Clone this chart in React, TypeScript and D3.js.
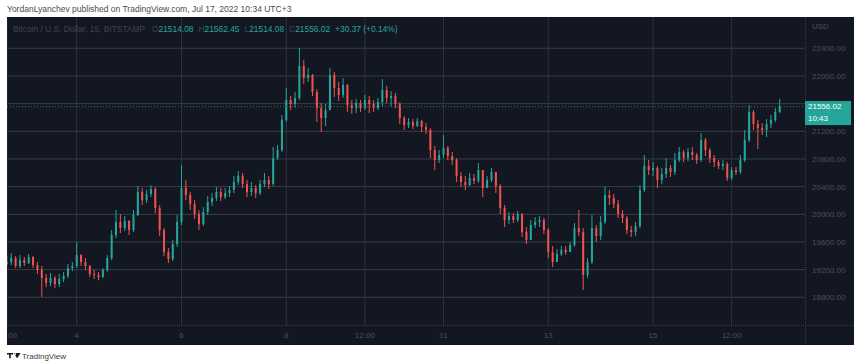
import React from 'react';
import * as d3 from 'd3';

const W = 857;
const H = 364;

// 2-hour candles, hours measured from Jul 4 00:00 (UTC+3)
const startHour = -32;
const stepHours = 2;
const firstOpen = 19281;
const closes = [
  19310, 19367, 19252, 19338, 19295, 19382, 19266, 19194, 19078, 19006,
  19078, 18991, 19064, 19107, 19223, 19252, 19411, 19310, 19252, 19136,
  19122, 19093, 19194, 19367, 19700, 19888, 19801, 19903, 19772, 19989,
  20322, 20206, 20293, 20365, 20091, 19772, 19454, 19353, 19570, 19888,
  20380, 20278, 20148, 20004, 19859, 20033, 20177, 20235, 20322, 20249,
  20307, 20351, 20466, 20553, 20437, 20322, 20380, 20307, 20437, 20495,
  20437, 20813, 20929, 21363, 21652, 21594, 21681, 22144, 21970, 22014,
  21768, 21536, 21392, 21507, 22014, 21826, 21724, 21869, 21580, 21536,
  21609, 21536, 21652, 21594, 21536, 21623, 21797, 21681, 21710, 21594,
  21392, 21291, 21334, 21276, 21349, 21262, 21218, 20929, 20785, 20857,
  20958, 20842, 20785, 20553, 20466, 20423, 20524, 20481, 20640, 20380,
  20495, 20611, 20409, 20091, 19917, 19975, 19917, 20004, 19743, 19628,
  19845, 19888, 19917, 19772, 19454, 19310, 19425, 19483, 19454, 19556,
  19801, 19743, 19122, 19310, 19801, 19685, 19888, 20278, 20235, 20148,
  20004, 19946, 19772, 19743, 19830, 20351, 20698, 20640, 20669, 20495,
  20582, 20669, 20611, 20785, 20900, 20813, 20900, 20857, 20785, 21074,
  20929, 20813, 20756, 20698, 20727, 20524, 20640, 20611, 20785, 21074,
  21479, 21305, 21247, 21218, 21305, 21363, 21479, 21556.02,
];
const highs = [
  19396, 19440, 19396, 19411, 19382, 19425, 19396, 19310, 19252, 19136,
  19151, 19107, 19136, 19165, 19281, 19310, 19599, 19425, 19367, 19266,
  19194, 19165, 19223, 19411, 19772, 20062, 20004, 19975, 19917, 20062,
  20409, 20380, 20351, 20423, 20394, 20134, 19801, 19512, 19628, 19989,
  20712, 20495, 20322, 20206, 20062, 20105, 20264, 20307, 20394, 20380,
  20380, 20409, 20553, 20625, 20597, 20495, 20466, 20423, 20495, 20597,
  20553, 20972, 21001, 21435, 21826, 21710, 21768, 22404, 22231, 22115,
  22028, 21811, 21609, 21594, 22115, 22057, 21913, 21970, 21884, 21652,
  21667, 21652, 21724, 21710, 21652, 21681, 21956, 21855, 21782, 21753,
  21623, 21421, 21392, 21377, 21392, 21363, 21320, 21247, 20987, 20929,
  21146, 20987, 20900, 20813, 20611, 20553, 20597, 20582, 20741, 20640,
  20553, 20669, 20611, 20437, 20134, 20033, 20018, 20047, 20018, 19816,
  19917, 19960, 19975, 19946, 19801, 19541, 19498, 19541, 19541, 19599,
  19874, 20062, 19801, 19367, 19989, 19845, 19975, 20394, 20351, 20293,
  20206, 20062, 19975, 19830, 19888, 20423, 20857, 20785, 20756, 20698,
  20669, 20813, 20712, 20886, 20972, 20929, 20958, 20972, 20886, 21175,
  21103, 20958, 20857, 20785, 20785, 20756, 20683, 20683, 20857, 21218,
  21580, 21507, 21363, 21320, 21377, 21435, 21536, 21667,
];
const lows = [
  19252, 19266, 19223, 19223, 19252, 19281, 19223, 19136, 18804, 18948,
  18962, 18934, 18948, 19020, 19078, 19180, 19223, 19252, 19194, 19093,
  19064, 19049, 19078, 19165, 19338, 19657, 19729, 19758, 19700, 19743,
  19975, 20134, 20163, 20249, 20018, 19685, 19396, 19295, 19324, 19527,
  19845, 20206, 20062, 19931, 19772, 19830, 19989, 20119, 20192, 20192,
  20221, 20249, 20307, 20423, 20380, 20249, 20264, 20235, 20278, 20394,
  20365, 20409, 20785, 20900, 21334, 21507, 21536, 21652, 21884, 21913,
  21710, 21334, 21190, 21276, 21507, 21695, 21638, 21681, 21479, 21450,
  21464, 21479, 21507, 21464, 21479, 21507, 21565, 21609, 21565, 21536,
  21305, 21218, 21247, 21233, 21262, 21190, 21161, 20813, 20640, 20741,
  20813, 20785, 20712, 20466, 20394, 20351, 20409, 20437, 20452, 20249,
  20380, 20466, 20307, 20004, 19816, 19859, 19874, 19888, 19671, 19570,
  19628, 19801, 19816, 19714, 19367, 19237, 19310, 19396, 19411, 19454,
  19527, 19685, 18905, 19078, 19281, 19599, 19628, 19859, 20134, 20091,
  19946, 19874, 19714, 19671, 19685, 19801, 20322, 20568, 20553, 20380,
  20437, 20524, 20539, 20568, 20756, 20756, 20770, 20785, 20727, 20756,
  20842, 20741, 20683, 20654, 20640, 20481, 20495, 20568, 20582, 20756,
  21045, 21218, 20944, 21146, 21117, 21247, 21334, 21464,
];

const priceTicks = [18800, 19200, 19600, 20000, 20400, 20800, 21200, 21600, 22000, 22400];
const timeTickHours = [-32, 0, 48, 96, 132, 168, 216, 264, 300];
const timeTickLabels = ['12:00', '4', '6', '8', '12:00', '11', '13', '15', '12:00'];

const lastPrice = 21556.02;
const countdown = '10:43';
const headerText = 'YordanLyanchev published on TradingView.com, Jul 17, 2022 10:34 UTC+3';
const symbolText = 'Bitcoin / U.S. Dollar, 15, BITSTAMP';
const ohlcLabels = ['O', 'H', 'L', 'C'];
const ohlcValues = ['21514.08', '21562.45', '21514.08', '21556.02'];
const changeText = '+30.37 (+0.14%)';

const UP = '#26a69a';
const DOWN = '#ef5350';
const BG = '#131722';
const FONT = '"Liberation Sans", Arial, sans-serif';

export default function App() {
  const panel = { x0: 7, x1: 854, y0: 17, y1: 345 };
  const plotRight = 805;
  const plotBottom = 325;

  const x = d3.scaleLinear().domain([-31.93, 333.6]).range([panel.x0, plotRight]);
  const y = d3.scaleLinear().domain([18800, 22400]).range([297.3, 48.3]);

  const bodyW = 2;
  const candles = closes.map((c, i) => {
    const o = i === 0 ? firstOpen : closes[i - 1];
    const h = Math.max(highs[i], o, c);
    const l = Math.min(lows[i], o, c);
    const cx = x(startHour + i * stepHours);
    const color = c >= o ? UP : DOWN;
    const top = y(Math.max(o, c));
    const bot = y(Math.min(o, c));
    return (
      <g key={i}>
        <line x1={cx} x2={cx} y1={y(h)} y2={y(l)} stroke={color} strokeWidth={1} />
        <rect x={cx - bodyW / 2} y={top} width={bodyW} height={Math.max(1, bot - top)} fill={color} />
      </g>
    );
  });

  const ly = y(lastPrice);
  const tagTop = ly - 5.6;
  const tagH = 24;

  return (
    <svg width={W} height={H} style={{ position: 'absolute', left: 0, top: 0, background: '#fff' }} fontFamily={FONT}>
      <defs>
        <clipPath id="plot">
          <rect x={panel.x0} y={panel.y0} width={plotRight - panel.x0} height={plotBottom - panel.y0} />
        </clipPath>
        <clipPath id="taxis">
          <rect x={panel.x0} y={plotBottom} width={plotRight - panel.x0} height={panel.y1 - plotBottom} />
        </clipPath>
      </defs>
      <rect width={W} height={H} fill="#fff" />
      <text x={7} y={12} fontSize={8.5} fill="#4a4a4a">{headerText}</text>

      <rect x={panel.x0} y={panel.y0} width={panel.x1 - panel.x0} height={panel.y1 - panel.y0} fill={BG} />

      <g clipPath="url(#plot)">
        {priceTicks.map((p) => (
          <line key={p} x1={panel.x0} x2={plotRight} y1={y(p)} y2={y(p)} stroke="#383c48" strokeWidth={1} />
        ))}
        {timeTickHours.map((h) => (
          <line key={h} x1={x(h)} x2={x(h)} y1={panel.y0} y2={plotBottom} stroke="#2f333e" strokeWidth={1} />
        ))}
        {candles}
        <line x1={panel.x0} x2={plotRight} y1={ly} y2={ly} stroke="#4f6f70" strokeWidth={1} strokeDasharray="1,2" />
      </g>

      <line x1={panel.x0} x2={panel.x1} y1={plotBottom + 0.5} y2={plotBottom + 0.5} stroke="#363a45" strokeDasharray="1,1" />
      <line x1={plotRight + 0.5} x2={plotRight + 0.5} y1={panel.y0} y2={panel.y1} stroke="#363a45" strokeDasharray="1,1" />

      <text x={13} y={32} fontSize={8.4} fill="#3f4451">
        <tspan>{symbolText}</tspan>
        {ohlcLabels.map((l, i) => (
          <React.Fragment key={l}>
            <tspan dx={i === 0 ? 7 : 5} fill="#3f4451">{l}</tspan>
            <tspan fill={UP}>{ohlcValues[i]}</tspan>
          </React.Fragment>
        ))}
        <tspan dx={5} fill={UP}>{changeText}</tspan>
      </text>

      <text x={812} y={29} fontSize={8} fill="#4c505b">USD</text>
      {priceTicks
        .filter((p) => y(p) + 3 < tagTop || y(p) - 6 > tagTop + tagH)
        .map((p) => (
          <text key={p} x={812} y={y(p) + 3} fontSize={8} fill="#4c505b">{p.toFixed(2)}</text>
        ))}

      <g clipPath="url(#taxis)">
        {timeTickHours.map((h, i) => (
          <text key={h} x={x(h)} y={338} fontSize={8} fill="#4c505b" textAnchor="middle">{timeTickLabels[i]}</text>
        ))}
      </g>

      <rect x={805} y={tagTop} width={46} height={tagH} fill={UP} />
      <text x={808} y={ly + 2.8} fontSize={8} fill="#fff">{lastPrice.toFixed(2)}</text>
      <text x={808} y={ly + 14.5} fontSize={8} fill="#fff">{countdown}</text>

      <g fill="#131722">
        <path d="M7 353 h6 v1.6 h-2.2 v3.6 h-1.6 v-3.6 h-2.2 z" />
        <path d="M13.6 353 h7 l-3.5 5.2 z" />
        <circle cx={15.2} cy={354.2} r={0.9} fill="#fff" />
      </g>
      <text x={22} y={359} fontSize={8} fill="#3a3a3a">TradingView</text>
    </svg>
  );
}
